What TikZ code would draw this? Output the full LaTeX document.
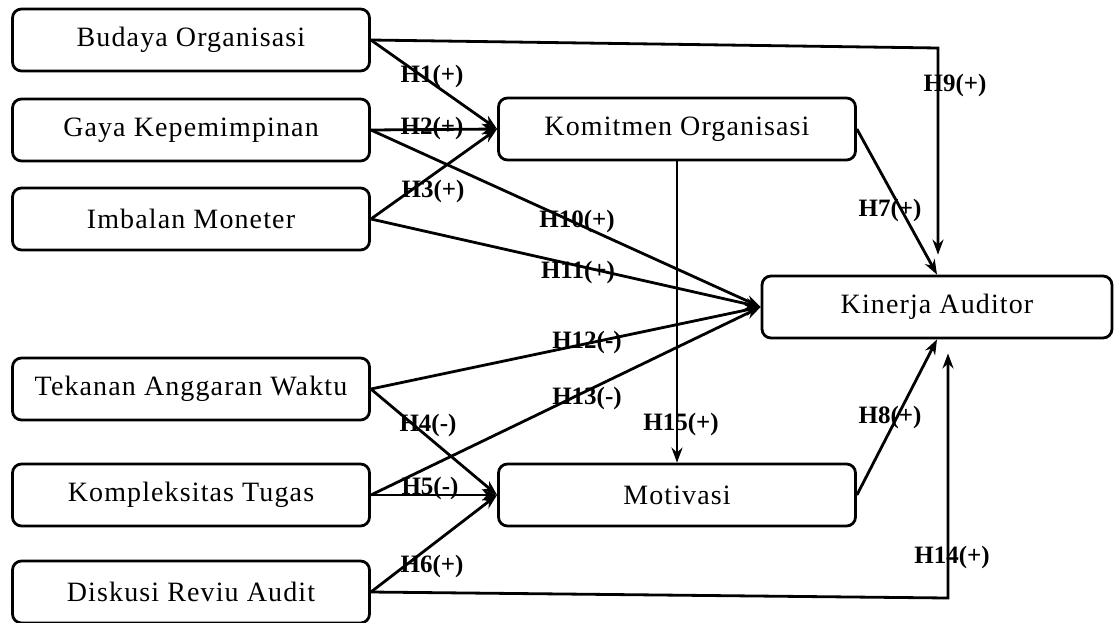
\documentclass[tikz,border=0pt]{standalone}
\usepackage{fontspec}
\setmainfont{Liberation Serif}
\newfontfamily\boxfont[LetterSpace=4]{Liberation Serif}
\usetikzlibrary{arrows.meta}

\begin{document}
\begin{tikzpicture}[x=1pt, y=-1pt, line width=2.8pt,
    main/.style = {draw, rounded corners=9pt, minimum width=357pt, minimum height=62pt, inner sep=0pt, font=\boxfont\fontsize{28}{31}\selectfont},
    lbl/.style = {inner sep=0pt, font=\fontsize{25}{28}\selectfont\bfseries},
    >={Stealth[length=15pt, width=11pt]}]
  \useasboundingbox (0,0) rectangle (1115,622);
  % left column
  \node[main] (1) at (191,40) {Budaya Organisasi};
  \node[main] (2) at (191,130) {Gaya Kepemimpinan};
  \node[main] (3) at (191,219) {Imbalan Moneter};
  \node[main] (4) at (191,389) {Tekanan Anggaran Waktu};
  \node[main] (5) at (191,495) {Kompleksitas Tugas};
  \node[main] (6) at (191,592) {Diskusi Reviu Audit};
  % middle and right
  \node[main] (7) at (677,129) {Komitmen Organisasi};
  \node[main] (8) at (677,495) {Motivasi};
  \node[main, minimum width=350pt] (9) at (937,307) {Kinerja Auditor};
  \coordinate (c9) at (938,48);
  \coordinate (c14) at (948,598);

  \draw[->] (1.east) -- (7.west);
  \draw[->] (2.east) -- (7.west);
  \draw[->] (3.east) -- (7.west);
  \draw[->] (4.east) -- (8.west);
  \draw[->] (5.east) -- (8.west);
  \draw[->] (6.east) -- (8.west);
  \draw[->] (2.east) -- (9.west);
  \draw[->] (3.east) -- (9.west);
  \draw[->] (4.east) -- (9.west);
  \draw[->] (5.east) -- (9.west);
  \draw[->] (7.east) -- (9.north);
  \draw[->] (8.east) -- (9.south);
  \draw[->] (7.south) -- (8.north);
  \draw[->, shorten >=20pt] (1.east) -- (c9) -- (c9 |- 9.north);
  \draw[->, shorten >=14pt] (6.east) -- (c14) -- (c14 |- 9.south);

  % labels
  \node[lbl] (l1) at (432,76) {H1(+)};
  \node[lbl] (l2) at (432,128) {H2(+)};
  \node[lbl] (l3) at (433,191) {H3(+)};
  \node[lbl] (l4) at (428,425) {H4(-)};
  \node[lbl] (l5) at (430,488) {H5(-)};
  \node[lbl] (l6) at (432,566) {H6(+)};
  \node[lbl] (l7) at (890,210) {H7(+)};
  \node[lbl] (l8) at (890,417) {H8(+)};
  \node[lbl] (l9) at (955,85) {H9(+)};
  \node[lbl] (l10) at (577,221) {H10(+)};
  \node[lbl] (l11) at (578,272) {H11(+)};
  \node[lbl] (l12) at (587,342) {H12(-)};
  \node[lbl] (l13) at (587,398) {H13(-)};
  \node[lbl] (l14) at (952,557) {H14(+)};
  \node[lbl] (l15) at (681,424) {H15(+)};
\end{tikzpicture}
\end{document}
